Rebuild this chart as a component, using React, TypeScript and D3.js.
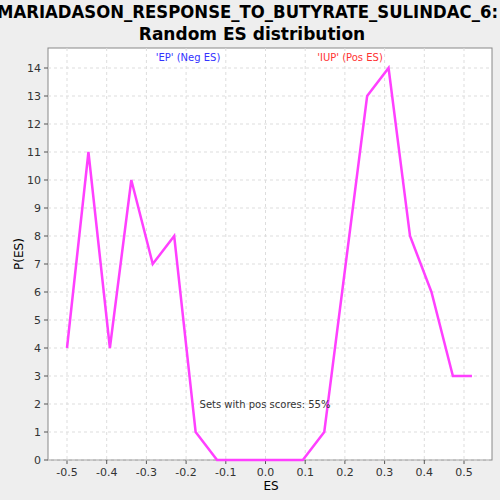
import * as d3 from 'd3';
import React from 'react';

const esValues = [-0.5, -0.446, -0.392, -0.338, -0.284, -0.23, -0.176, -0.122, -0.068, -0.014, 0.04, 0.094, 0.148, 0.202, 0.256, 0.31, 0.364, 0.418, 0.472, 0.52];
const pValues = [4, 11, 4, 10, 7, 8, 1, 0, 0, 0, 0, 0, 1, 7, 13, 14, 8, 6, 3, 3];
const xTicks = [-0.5, -0.4, -0.3, -0.2, -0.1, 0.0, 0.1, 0.2, 0.3, 0.4, 0.5];
const yTicks = d3.range(0, 15);

export default function App() {
    const W = 500, H = 500;
    const left = 48, right = 492, top = 48, bottom = 460;
    const x = d3.scaleLinear().domain([-0.5, 0.5]).range([67, 464]);
    const y = d3.scaleLinear().domain([0, 14]).range([bottom, 68]);
    const line = d3.line<number>().x((_, i) => x(esValues[i])).y((d) => y(d));
    const font = 'DejaVu Sans, sans-serif';

    return (
        <svg width={W} height={H} style={{ position: 'absolute', left: 0, top: 0, background: '#eeeeee' }} fontFamily={font}>
            <rect x={left} y={top} width={right - left} height={bottom - top} fill="white" stroke="#888" />
            {xTicks.map((t) => (
                <g key={'x' + t}>
                    <line x1={x(t)} x2={x(t)} y1={top} y2={bottom} stroke="#ddd" strokeDasharray="3,3" />
                    <line x1={x(t)} x2={x(t)} y1={bottom} y2={bottom + 4} stroke="#555" />
                    <text x={x(t)} y={bottom + 16} fontSize={11} textAnchor="middle" fill="#333">{t.toFixed(1)}</text>
                </g>
            ))}
            {yTicks.map((t) => (
                <g key={'y' + t}>
                    <line x1={left} x2={right} y1={y(t)} y2={y(t)} stroke="#ddd" strokeDasharray="3,3" />
                    <line x1={left - 4} x2={left} y1={y(t)} y2={y(t)} stroke="#555" />
                    <text x={left - 7} y={y(t) + 4} fontSize={11} textAnchor="end" fill="#333">{t}</text>
                </g>
            ))}
            <path d={line(pValues) ?? ''} fill="none" stroke="#ff40ff" strokeWidth={2.5} />
            <text x={-3} y={18} fontSize={17} fontWeight="bold" textLength={501} lengthAdjust="spacingAndGlyphs">MARIADASON_RESPONSE_TO_BUTYRATE_SULINDAC_6:</text>
            <text x={252} y={40} fontSize={17} fontWeight="bold" textAnchor="middle">Random ES distribution</text>
            <text x={188} y={61} fontSize={10} textAnchor="middle" fill="#3333ff">'EP' (Neg ES)</text>
            <text x={350} y={61} fontSize={10} textAnchor="middle" fill="#ff3333">'IUP' (Pos ES)</text>
            <text x={265} y={408} fontSize={10} textAnchor="middle" fill="#333">Sets with pos scores: 55%</text>
            <text x={271} y={490} fontSize={12} textAnchor="middle">ES</text>
            <text transform={`translate(23,254) rotate(-90)`} fontSize={12} textAnchor="middle">P(ES)</text>
        </svg>
    );
}
